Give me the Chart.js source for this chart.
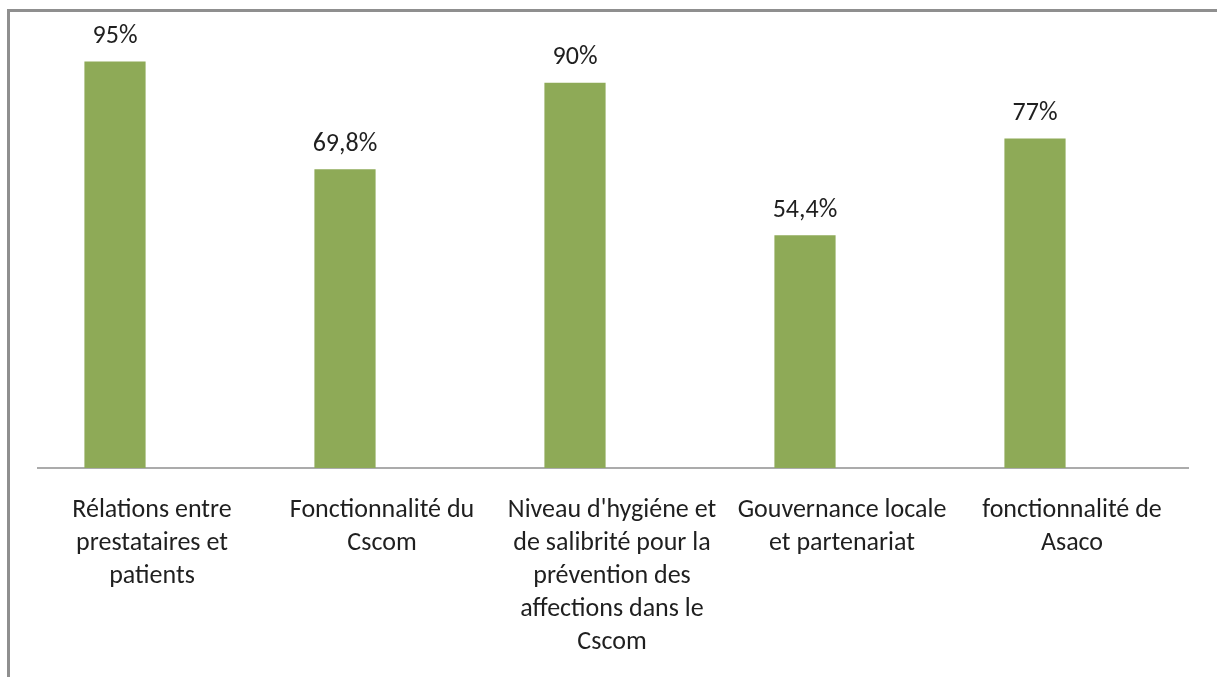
<!DOCTYPE html>
<html lang="fr">
<head>
    <meta charset="UTF-8">
    <title>Scores par domaine</title>
    <script src="https://cdn.jsdelivr.net/npm/chart.js"></script>
    <style>
        html, body { margin: 0; padding: 0; background: #fff; overflow: hidden; }
        .zone { position: relative; width: 1217px; height: 677px; }
        .cadre {
            position: absolute; left: 7px; top: 9px; right: -10px; bottom: -10px;
            border-left: 3px solid #8f8f8f; border-top: 3px solid #8f8f8f;
            pointer-events: none;
        }
        canvas { position: absolute; left: 0; top: 0; }
    </style>
</head>
<body>
    <div class="zone">
        <canvas id="graphique" width="1217" height="677"></canvas>
        <div class="cadre"></div>
    </div>

    <script>
        // Données
        const categories = [
            ['Rélations entre', 'prestataires et', 'patients'],
            ['Fonctionnalité du', 'Cscom'],
            ["Niveau d'hygiéne et", 'de salibrité pour la', 'prévention des', 'affections dans le', 'Cscom'],
            ['Gouvernance locale', 'et partenariat'],
            ['fonctionnalité de', 'Asaco']
        ];
        const valeurs = [95, 69.8, 90, 54.4, 77];
        const etiquettes = ['95%', '69,8%', '90%', '54,4%', '77%'];

        const police = "Carlito, Lato, 'Open Sans', sans-serif";

        // Valeurs au-dessus des barres
        const pluginEtiquettes = {
            id: 'etiquettes',
            afterDatasetsDraw(chart) {
                const ctx = chart.ctx;
                const meta = chart.getDatasetMeta(0);
                ctx.save();
                ctx.font = '26px ' + police;
                ctx.fillStyle = '#1f1f1f';
                ctx.textAlign = 'center';
                ctx.textBaseline = 'middle';
                meta.data.forEach((barre, i) => {
                    ctx.fillText(etiquettes[i], barre.x, barre.y - 25);
                });
                ctx.restore();
            }
        };

        // Ligne de base de l'axe des catégories
        const pluginBase = {
            id: 'ligneBase',
            beforeDatasetsDraw(chart) {
                const ctx = chart.ctx;
                const zone = chart.chartArea;
                const y = chart.scales.y.getPixelForValue(0);
                ctx.save();
                ctx.strokeStyle = '#ababab';
                ctx.lineWidth = 2;
                ctx.beginPath();
                ctx.moveTo(zone.left + 37, y);
                ctx.lineTo(zone.right + 39, y);
                ctx.stroke();
                ctx.restore();
            }
        };

        const ctxGraph = document.getElementById('graphique').getContext('2d');
        const graphique = new Chart(ctxGraph, {
            type: 'bar',
            data: {
                labels: categories,
                datasets: [{
                    data: valeurs,
                    backgroundColor: '#8eaa57',
                    borderWidth: 0,
                    categoryPercentage: 1,
                    barPercentage: 0.266
                }]
            },
            options: {
                responsive: false,
                animation: false,
                layout: { padding: { left: 0, right: 67, top: 40, bottom: 0 } },
                plugins: {
                    legend: { display: false },
                    tooltip: { enabled: false }
                },
                scales: {
                    x: {
                        grid: { display: false, drawTicks: false },
                        border: { display: false },
                        ticks: {
                            color: '#1f1f1f',
                            font: { family: police, size: 26, lineHeight: 1.27 },
                            padding: 26,
                            labelOffset: 37,
                            maxRotation: 0,
                            autoSkip: false
                        },
                        afterFit(axe) { axe.height = 209; }
                    },
                    y: {
                        display: false,
                        min: 0,
                        max: 100
                    }
                }
            },
            plugins: [pluginEtiquettes, pluginBase]
        });
    </script>
</body>
</html>
